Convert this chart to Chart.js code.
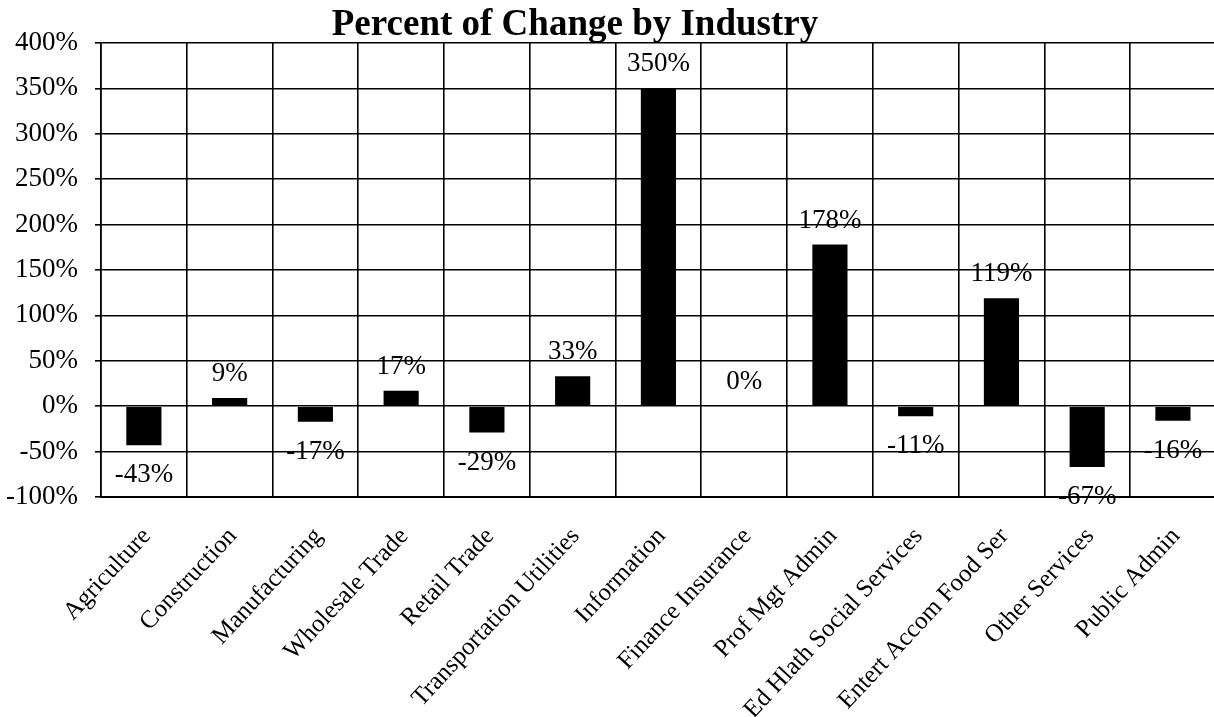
<!DOCTYPE html>
<html>
<head>
<meta charset="utf-8">
<title>Percent of Change by Industry</title>
<script src="https://cdn.jsdelivr.net/npm/chart.js@4.4.1/dist/chart.umd.min.js"></script>
<style>
  html, body { margin: 0; padding: 0; background: #ffffff; overflow: hidden; }
  #wrap { width: 1220px; height: 717px; }
</style>
</head>
<body>
<div id="wrap"><canvas id="chart" width="1220" height="717"></canvas></div>
<script>
// Industries shown along the category axis
const industries = [
  'Agriculture', 'Construction', 'Manufacturing', 'Wholesale Trade',
  'Retail Trade', 'Transportation Utilities', 'Information',
  'Finance Insurance', 'Prof Mgt Admin', 'Ed Hlath Social Services',
  'Entert Accom Food Ser', 'Other Services', 'Public Admin'
];

// Percent change for each industry
const percentChange = [-43, 9, -17, 17, -29, 33, 350, 0, 178, -11, 119, -67, -16];

// Value axis range and step (percent)
const axisMin = -100;
const axisMax = 400;
const axisStep = 50;

const chartTitle = 'Percent of Change by Industry';

const serif = '"Liberation Serif", "Times New Roman", Times, serif';

// Draws the heading centred over the plot
const headingPlugin = {
  id: 'heading',
  afterDraw(chart) {
    const ctx = chart.ctx;
    ctx.save();
    ctx.font = 'bold 37px ' + serif;
    ctx.fillStyle = '#000';
    ctx.textAlign = 'center';
    ctx.textBaseline = 'alphabetic';
    ctx.fillText(chartTitle, 575, 35);
    ctx.restore();
  }
};

// Writes each value next to the end of its bar
const valueLabelPlugin = {
  id: 'valueLabels',
  afterDatasetsDraw(chart) {
    const ctx = chart.ctx;
    const meta = chart.getDatasetMeta(0);
    const values = chart.data.datasets[0].data;
    ctx.save();
    ctx.font = '27px ' + serif;
    ctx.fillStyle = '#000';
    ctx.textAlign = 'center';
    ctx.textBaseline = 'middle';
    meta.data.forEach((bar, i) => {
      const v = values[i];
      const y = v >= 0 ? bar.y - 24 : bar.y + 30;
      ctx.fillText(v + '%', bar.x, y);
    });
    ctx.restore();
  }
};

new Chart(document.getElementById('chart'), {
  type: 'bar',
  data: {
    labels: industries,
    datasets: [{
      data: percentChange,
      backgroundColor: '#000',
      borderWidth: 0,
      categoryPercentage: 1,
      barPercentage: 0.41
    }]
  },
  options: {
    responsive: false,
    animation: false,
    devicePixelRatio: 1,
    layout: { padding: { top: 43, right: 3, left: 0, bottom: 0 } },
    plugins: {
      legend: { display: false },
      title: { display: false },
      tooltip: { enabled: false }
    },
    scales: {
      x: {
        grid: {
          color: '#000',
          lineWidth: 1.6,
          offset: true,
          drawTicks: false
        },
        border: { color: '#000', width: 2 },
        ticks: {
          autoSkip: false,
          minRotation: 47,
          maxRotation: 47,
          padding: 25,
          labelOffset: 3,
          color: '#000',
          font: { family: serif, size: 25 }
        },
        afterFit(scale) { scale.height = 220; }
      },
      y: {
        min: axisMin,
        max: axisMax,
        grid: {
          color: '#000',
          lineWidth: 1.6,
          tickLength: 6
        },
        border: { color: '#000', width: 1.6 },
        ticks: {
          stepSize: axisStep,
          padding: 17,
          color: '#000',
          font: { family: serif, size: 27 },
          callback: (v) => v + '%'
        },
        afterFit(scale) { scale.width = 101; }
      }
    }
  },
  plugins: [headingPlugin, valueLabelPlugin]
});
</script>
</body>
</html>
